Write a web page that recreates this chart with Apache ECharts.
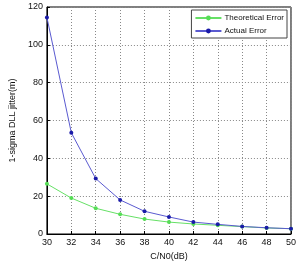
<!DOCTYPE html>
<html>
<head>
<meta charset="utf-8">
<script src="https://cdn.jsdelivr.net/npm/echarts@6/dist/echarts.min.js"></script>
<style>
  html, body { margin: 0; padding: 0; background: #fff; }
  #chart { width: 299px; height: 270px; }
</style>
</head>
<body>
<div id="chart"></div>
<script>
// C/N0 values (dB)
const cn0 = [30, 32, 34, 36, 38, 40, 42, 44, 46, 48, 50]
// jitter (m)
const theoreticalError = [26.5, 19, 13.6, 10.4, 7.9, 6.3, 5.3, 4.6, 3.9, 3.2, 2.8]
const actualError = [114.5, 53.5, 29.3, 18, 12, 9, 6.3, 5.1, 4, 3.3, 2.8]
const yTicks = [0, 20, 40, 60, 80, 100, 120]

const chart = echarts.init(document.getElementById('chart'))

const font = 'Liberation Sans, Arial, sans-serif'

chart.setOption({
  animation: false,
  grid: {
    left: 31,
    right: 6,
    top: 7,
    bottom: 36,
    show: true,
    borderColor: '#000',
    borderWidth: 1
  },
  legend: {
    orient: 'vertical',
    right: 12,
    top: 10,
    itemWidth: 26,
    itemHeight: 6,
    itemGap: 5,
    padding: [4, 3, 3, 3],
    borderColor: '#444',
    borderWidth: 1,
    backgroundColor: '#fff',
    textStyle: { fontFamily: font, fontSize: 8, color: '#111', padding: [0, 0, 0, -2] },
    data: ['Theoretical Error', 'Actual Error']
  },
  xAxis: {
    type: 'value',
    min: 30,
    max: 50,
    interval: 2,
    name: 'C/N0(dB)',
    nameLocation: 'middle',
    nameGap: 15,
    nameTextStyle: { fontFamily: font, fontSize: 9, color: '#111' },
    axisLine: { lineStyle: { color: '#000' } },
    axisTick: { inside: true, length: 3, lineStyle: { color: '#000' } },
    axisLabel: { fontFamily: font, fontSize: 9, color: '#111', margin: 4 },
    splitLine: { show: true, lineStyle: { color: '#888', type: [1, 2] } }
  },
  yAxis: {
    type: 'value',
    min: yTicks[0],
    max: yTicks[yTicks.length - 1],
    interval: 20,
    name: '1-sigma DLL jitter(m)',
    nameLocation: 'middle',
    nameGap: 23,
    nameTextStyle: { fontFamily: font, fontSize: 9, color: '#111' },
    axisLine: { show: true, lineStyle: { color: '#000' } },
    axisTick: { show: true, inside: true, length: 3, lineStyle: { color: '#000' } },
    axisLabel: { fontFamily: font, fontSize: 9, color: '#111', margin: 4 },
    splitLine: { show: true, lineStyle: { color: '#888', type: [1, 2] } }
  },
  series: [{
    name: 'Theoretical Error',
    type: 'line',
    data: cn0.map((x, i) => [x, theoreticalError[i]]),
    symbol: 'circle',
    symbolSize: 4,
    lineStyle: { color: '#66e066', width: 1 },
    itemStyle: { color: '#55dd55' }
  }, {
    name: 'Actual Error',
    type: 'line',
    data: cn0.map((x, i) => [x, actualError[i]]),
    symbol: 'circle',
    symbolSize: 4,
    lineStyle: { color: '#5a5ad0', width: 1 },
    itemStyle: { color: '#1a1aa8' }
  }]
})
</script>
</body>
</html>
